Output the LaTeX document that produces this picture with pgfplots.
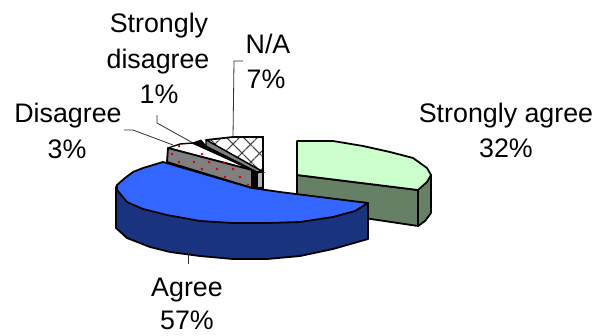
\documentclass[border=0pt]{standalone}
\usepackage{fontspec}
\setmainfont{Liberation Sans}
\usepackage{pgfplots}
\pgfplotsset{compat=1.18}
\usetikzlibrary{patterns.meta}
\definecolor{paleGreen}{HTML}{CCFFCC}
\definecolor{darkGreen}{HTML}{668066}
\definecolor{brightBlue}{HTML}{3366FF}
\definecolor{darkBlue}{HTML}{19337F}
\definecolor{midGray}{HTML}{808080}
\definecolor{leader}{HTML}{303030}
\tikzset{
  hatchA/.style={pattern={Lines[angle=45,distance=13pt,line width=1.5pt,xshift=3pt]},pattern color=#1},
  hatchB/.style={pattern={Lines[angle=-45,distance=13pt,line width=1.5pt,xshift=3pt]},pattern color=#1},
}
\newcommand{\lbl}[3]{\node[anchor=base,inner sep=0pt,font=\fontsize{26.8}{30}\selectfont] at (axis cs:#1,#2) {#3};}
\begin{document}
\begin{tikzpicture}
\path[use as bounding box] (0,0) rectangle (593pt,335pt);
\begin{axis}[
  at={(0,0)},anchor=south west,
  scale only axis,width=593pt,height=335pt,
  xmin=0,xmax=593,ymin=0,ymax=335,y dir=reverse,
  hide axis,clip=false,
]
% Strongly agree: outer side, front cut face, top
\addplot[draw=black,line width=1.8pt,fill=darkGreen,line join=round] coordinates {(418,190)(431,175)(431,213)(425,221)(418,226)} -- cycle;
\addplot[draw=black,line width=1.8pt,fill=darkGreen,line join=round] coordinates {(297,175)(418,190)(418,226)(297,208)} -- cycle;
\addplot[draw=black,line width=1.8pt,fill=paleGreen,line join=round] coordinates {(297,141)(333,141)(363,146)(390,152)(413,158)(427,168)(431,175)(427,182)(418,190)(297,175)} -- cycle;

% N/A: top, inner face and outer side
\addplot[draw=none,fill=white] coordinates {(206,140)(233,137)(263,137)(263,172)} -- cycle;
\addplot[draw=none,hatchA=black!75] coordinates {(206,140)(233,137)(263,137)(263,172)} -- cycle;
\addplot[draw=none,hatchB=black!75] coordinates {(206,140)(233,137)(263,137)(263,172)} -- cycle;
\addplot[draw=black,line width=1.8pt] coordinates {(206,140)(233,137)(263,137)(263,172)(206,140)};
\addplot[draw=black,line width=1.1pt,fill=midGray] coordinates {(206,140)(263,172)(257,172)(206,146)} -- cycle;
\addplot[draw=black,line width=1.1pt,fill=midGray!60] coordinates {(257,172)(263,172)(263,188)(257,188)} -- cycle;
\addplot[draw=none,hatchA=black] coordinates {(257,172)(263,172)(263,188)(257,188)} -- cycle;

% Disagree: top, then front cut face
\addplot[draw=black,line width=1.4pt,fill=white,line join=round] coordinates {(168,148)(180,144)(193,143)(252,170)} -- cycle;
\addplot[draw=black,line width=1.8pt,fill=midGray,line join=round] coordinates {(168,148)(252,170)(252,188)(167,162)} -- cycle;
\addplot[only marks,mark=*,mark size=1pt,color=red!85!black] coordinates {
  (179,146)(202,154)(224,163)
  (172,154)(179,162)(194,162)(209,162)
  (202,169)(217,169)(233,169)(225,177)(240,177)(248,185)};

% Strongly disagree: a thin black sliver
\addplot[draw=black,fill=black,line width=0.8pt] coordinates {(192,143)(201,140)(207,147)(257,172)(250,169)} -- cycle;
\addplot[draw=black,fill=black,line width=0.8pt] coordinates {(252,170)(257,172)(257,189)(252,188)} -- cycle;

% Agree: outer side, then top
\addplot[draw=black,line width=1.8pt,fill=darkBlue,line join=round] coordinates {
  (116,187)(116,228)(127,238)(150,247)(170,252)(200,256)(233,259)(267,259)(300,256)(333,249)(368,239)(368,203)} -- cycle;
\addplot[draw=black,line width=1.8pt,fill=brightBlue,line join=round] coordinates {
  (163,162)(252,188)(280,192)(368,203)(355,211)(333,217)(300,222)(267,223)(233,223)(200,221)(167,215)(143,209)(127,202)(117,190)(117,185)(125,178)(133,172)(143,168)} -- cycle;

% Leader lines
\addplot[leader,line width=0.8pt] coordinates {(243,61)(234,61)(233,137)};
\addplot[leader,line width=0.8pt] coordinates {(157,115)(157,123)(193,143)};
\addplot[leader,line width=0.8pt] coordinates {(124,130)(133,130)(173,145)};
\addplot[leader,line width=0.8pt] coordinates {(188,252)(188,264)};

% Labels
\lbl{506}{122}{Strongly agree}
\lbl{506}{157}{32\%}
\lbl{187}{296}{Agree}
\lbl{187}{329}{57\%}
\lbl{68}{122}{Disagree}
\lbl{67}{158}{3\%}
\lbl{159}{32}{Strongly}
\lbl{158}{68}{disagree}
\lbl{159}{103}{1\%}
\lbl{268}{53}{N/A}
\lbl{266}{88}{7\%}
\end{axis}
\end{tikzpicture}
\end{document}
